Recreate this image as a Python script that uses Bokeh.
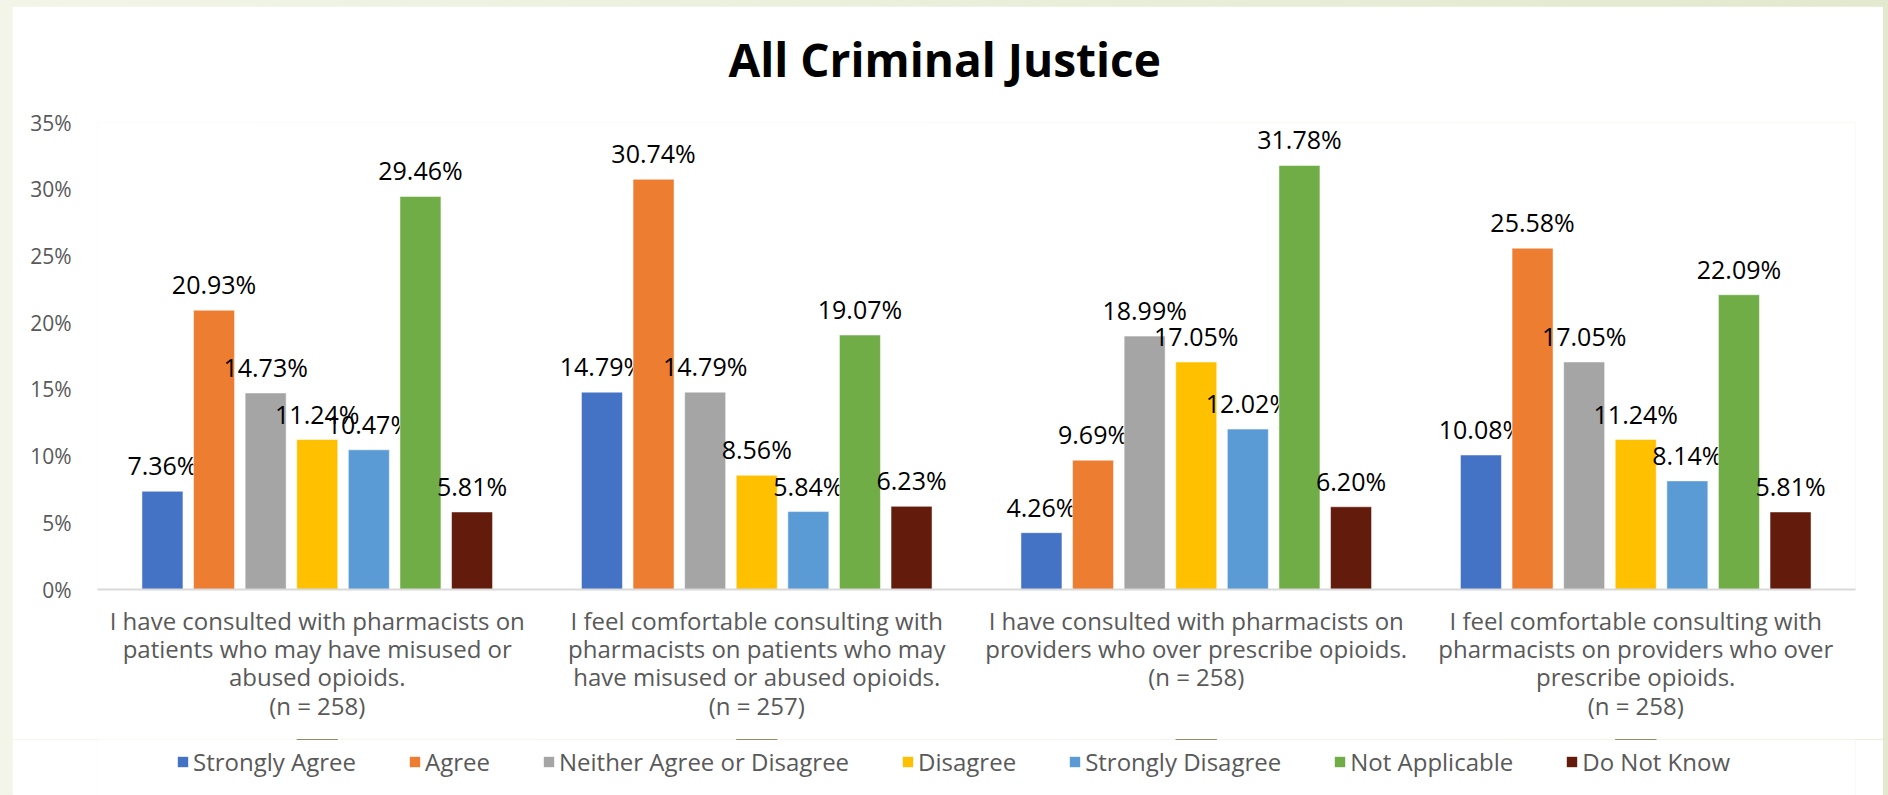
from bokeh.plotting import figure
from bokeh.models import (ColumnDataSource, FactorRange, Range1d, FixedTicker,
                          PrintfTickFormatter, Legend, LegendItem, Title)
from bokeh.transform import dodge
from bokeh.layouts import column
from bokeh.core.properties import value
from bokeh.embed import file_html
from bokeh.resources import INLINE

# ---------------- data ----------------
categories = [
    "I have consulted with pharmacists on\npatients who may have misused or\nabused opioids.\n(n = 258)",
    "I feel comfortable consulting with\npharmacists on patients who may\nhave misused or abused opioids.\n(n = 257)",
    "I have consulted with pharmacists on\nproviders who over prescribe opioids.\n(n = 258)",
    "I feel comfortable consulting with\npharmacists on providers who over\nprescribe opioids.\n(n = 258)",
]
series_names = ["Strongly Agree", "Agree", "Neither Agree or Disagree", "Disagree",
                "Strongly Disagree", "Not Applicable", "Do Not Know"]
strongly_agree = [7.36, 14.79, 4.26, 10.08]
agree = [20.93, 30.74, 9.69, 25.58]
neither = [14.73, 14.79, 18.99, 17.05]
disagree = [11.24, 8.56, 17.05, 11.24]
strongly_disagree = [10.47, 5.84, 12.02, 8.14]
not_applicable = [29.46, 19.07, 31.78, 22.09]
do_not_know = [5.81, 6.23, 6.20, 5.81]
y_ticks = [0, 5, 10, 15, 20, 25, 30, 35]
title_text = "All Criminal Justice"

series_values = [strongly_agree, agree, neither, disagree,
                 strongly_disagree, not_applicable, do_not_know]
colors = ["#4472C4", "#ED7D31", "#A5A5A5", "#FFC000", "#5B9BD5", "#70AD47", "#631B0C"]

FONT = "Open Sans"
GRAY = "#595959"

p = figure(x_range=FactorRange(*categories), y_range=Range1d(0, 35),
           frame_width=1758, frame_height=467, output_backend="svg", toolbar_location=None,
           min_border_left=85, min_border_right=28, min_border_top=116,
           min_border_bottom=150)

p.background_fill_color = "white"
p.border_fill_color = "white"
p.outline_line_color = None
p.xgrid.grid_line_color = None
p.ygrid.grid_line_color = None

pitch = 0.1174
bar_w = 0.0933
for i, (name, vals, col) in enumerate(zip(series_names, series_values, colors)):
    off = (i - 3) * pitch
    src = ColumnDataSource(dict(cat=categories, val=vals,
                                lbl=[f"{v:.2f}%" for v in vals]))
    p.vbar(x=dodge("cat", off, range=p.x_range), top="val", width=bar_w,
           source=src, fill_color=col, line_color="white", line_alpha=0.5,
           line_width=1)
    p.text(x=dodge("cat", off, range=p.x_range), y="val", text="lbl", source=src,
           text_align="center", text_baseline="alphabetic", y_offset=-26,
           text_font=value(FONT), text_font_size=value("25px"), text_color="#000000")

# spacer between frame and title (title is stacked outside it)
top_spacer = Title(text=" ", text_font_size="10px", standoff=20)
p.add_layout(top_spacer, "above")

# title
p.title.text = title_text
p.title.align = "left"
p.title.vertical_align = "bottom"
p.title.text_font = FONT
p.title.text_font_size = "46px"
p.title.text_font_style = "bold"
p.title.text_color = "#000000"
p.title.standoff = 0
p.title.offset = 631

# y axis
p.yaxis.ticker = FixedTicker(ticks=y_ticks)
p.yaxis.formatter = PrintfTickFormatter(format="%d%%")
p.yaxis.axis_line_color = None
p.yaxis.major_tick_line_color = None
p.yaxis.minor_tick_line_color = None
p.yaxis.major_label_text_font = FONT
p.yaxis.major_label_text_font_size = "21px"
p.yaxis.major_label_text_color = GRAY
p.yaxis.major_label_standoff = 20

# x axis
p.xaxis.axis_line_color = "#D9D9D9"
p.xaxis.axis_line_width = 2
p.xaxis.major_tick_line_color = None
p.xaxis.minor_tick_line_color = None
p.xaxis.major_label_text_font = FONT
p.xaxis.major_label_text_font_size = "24px"
p.xaxis.major_label_text_line_height = 0.86
p.xaxis.major_label_text_color = GRAY
p.xaxis.major_label_standoff = 8

# ---------------- legend strip (separate small figure) ----------------
# the series are drawn again here, but the y range lies below all bars, so only
# the legend keys are visible
lf = figure(width=1871, height=56, x_range=FactorRange(*categories),
            y_range=Range1d(-2, -1), x_axis_type=None, y_axis_type=None,
            output_backend="svg", toolbar_location=None, min_border=0)
lf.background_fill_color = "white"
lf.border_fill_color = "white"
lf.outline_line_color = None
lf.xgrid.grid_line_color = None
lf.ygrid.grid_line_color = None
legend_items = []
for name, vals, col in zip(series_names, series_values, colors):
    r = lf.vbar(x=categories, top=vals, bottom=0, width=bar_w,
                fill_color=col, line_color=None)
    legend_items.append(LegendItem(label=name, renderers=[r]))
legend = Legend(items=legend_items, orientation="horizontal", location=(79, 17),
                glyph_width=13, glyph_height=13, label_standoff=4, spacing=52,
                label_text_font=FONT, label_text_font_size="24px",
                label_text_color=GRAY, border_line_color=None,
                background_fill_alpha=0, margin=0, padding=0)
lf.add_layout(legend)

p.margin = (6, 5, 0, 12)
lf.margin = (0, 5, 0, 12)
root = column(p, lf, spacing=0,
              styles={"background": "linear-gradient(90deg, #F2F5E8, #E2E9CE)"})

open("out.html", "w").write(file_html(root, INLINE))
